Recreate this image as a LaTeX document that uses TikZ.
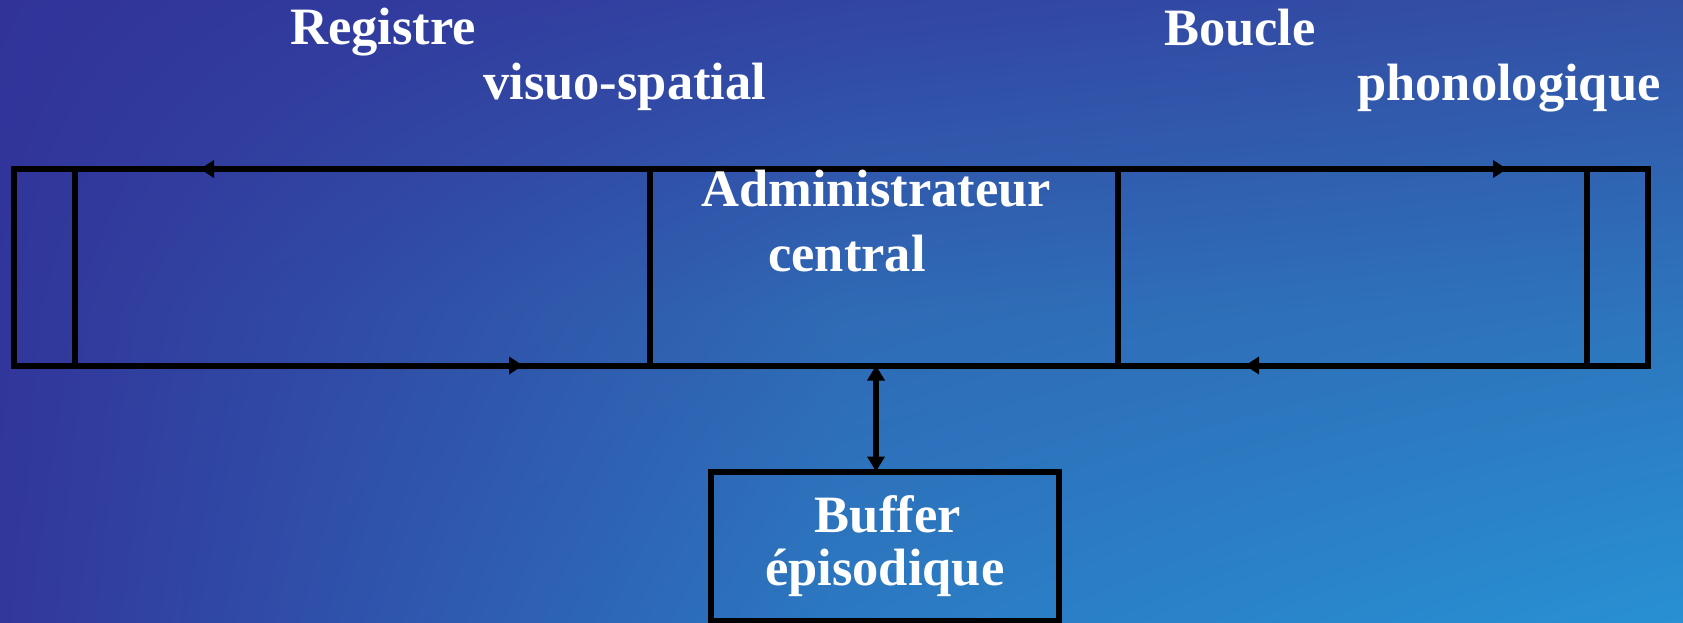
\documentclass[tikz,border=0pt]{standalone}
\usepackage{fontspec}
\setmainfont{Liberation Serif}
\usetikzlibrary{arrows.meta,shadings}
\definecolor{cTL}{RGB}{49,51,153}
\definecolor{cTM}{RGB}{50,68,162}
\definecolor{cTR}{RGB}{51,80,165}
\definecolor{cML}{RGB}{49,54,154}
\definecolor{cC}{RGB}{47,106,181}
\definecolor{cMR}{RGB}{45,117,189}
\definecolor{cBL}{RGB}{50,55,155}
\definecolor{cBM}{RGB}{43,121,194}
\definecolor{cBR}{RGB}{40,145,211}
\begin{document}
\begin{tikzpicture}[x=1pt,y=-1pt,
  box/.style={draw=black, line width=6pt, rectangle, inner sep=0pt, outer sep=0pt, anchor=north west},
  lbl/.style={text=white, font=\fontsize{52.5}{53.4}\selectfont\bfseries, inner sep=0pt, anchor=base west},
  arr/.style={line width=6pt, -{Triangle[length=14pt,width=17pt]}},
  darr/.style={line width=6pt, {Triangle[length=15pt,width=17pt]}-{Triangle[length=15pt,width=17pt]}}]
\useasboundingbox (0,0) rectangle (1683,623);
% background
\shade[upper left=cTL, upper right=cTM, lower left=cML, lower right=cC] (0,0) rectangle (842,312);
\shade[upper left=cTM, upper right=cTR, lower left=cC, lower right=cMR] (841,0) rectangle (1683,312);
\shade[upper left=cML, upper right=cC, lower left=cBL, lower right=cBM] (0,311) rectangle (842,623);
\shade[upper left=cC, upper right=cMR, lower left=cBM, lower right=cBR] (841,311) rectangle (1683,623);
% boxes
\node[box, minimum width=1633.5pt, minimum height=196.5pt] (frame) at (14,169) {};
\node[box, minimum width=575pt, minimum height=196.5pt] (visuo) at (74.5,169) {};
\node[box, minimum width=468.5pt, minimum height=196.5pt] (admin) at (649.5,169) {};
\node[box, minimum width=469pt, minimum height=196.5pt] (phono) at (1118,169) {};
\node[box, minimum width=348.5pt, minimum height=149pt, text=white,
      font=\fontsize{52.5}{53.4}\selectfont\bfseries, align=center] (buffer) at (710.5,471.5) {\hspace*{6pt}Buffer\\épisodique};
% arrows
\coordinate (tlA) at (200,169);
\coordinate (blA) at (523,365.5);
\coordinate (trA) at (1507,169);
\coordinate (brA) at (1245,365.5);
\coordinate (ab) at (876,0);
\draw[arr] (admin.north west) -- (tlA);
\draw[arr] (frame.south west) -- (blA);
\draw[arr] (admin.north east) -- (trA);
\draw[arr] (frame.south east) -- (brA);
\draw[darr] (ab |- admin.south) -- (ab |- buffer.north);
% labels
\node[lbl] (reg) at (290,45) {Registre};
\node[lbl] (vis) at (483,100) {visuo-spatial};
\node[lbl] (bou) at (1164,45.5) {Boucle};
\node[lbl] (pho) at (1357,101) {phonologique};
\node[lbl] (adm) at (701,206.7) {Administrateur};
\node[lbl] (cen) at (768,271.7) {central};
\end{tikzpicture}
\end{document}
